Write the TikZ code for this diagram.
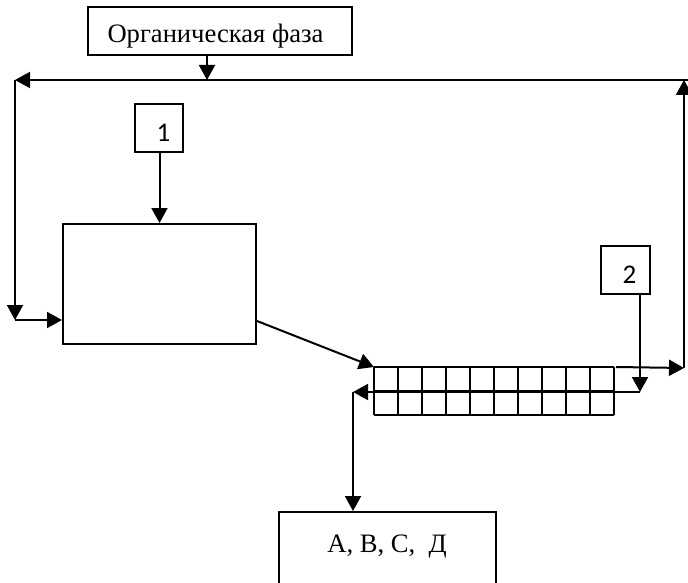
\documentclass[tikz,border=0pt]{standalone}
\usepackage{fontspec}
\setmainfont{Liberation Serif}
\newfontfamily\digitfont{Carlito}
\usetikzlibrary{arrows.meta}
\begin{document}
\begin{tikzpicture}[x=1pt,y=-1pt,line width=2pt,
  box/.style={draw,rectangle,inner sep=0pt,line width=2pt},
  arr/.style={-{Triangle[length=15pt,width=16pt]}},
  lbl/.style={anchor=base,inner sep=0pt,font=\fontsize{26.6}{30}\selectfont},
  num/.style={anchor=base,inner sep=0pt,font=\digitfont\fontsize{27}{30}\selectfont}]
\useasboundingbox (0,0) rectangle (688,583);
% boxes
\node[box,minimum width=264pt,minimum height=48pt] (org) at (220,31) {};
\node[lbl] (orgt) at (215.5,43) {Органическая фаза};
\node[box,minimum width=48pt,minimum height=48pt] (b1) at (159,128) {};
\node[num] (b1t) at (163.5,142) {1};
\node[box,minimum width=193pt,minimum height=120pt] (main) at (159.5,284) {};
\node[box,minimum width=49pt,minimum height=48pt] (b2) at (625.5,270) {};
\node[num] (b2t) at (629.5,283) {2};
\begin{scope}
\clip (0,0) rectangle (688,583);
\node[box,minimum width=217pt,minimum height=100pt] (out) at (387.5,562) {};
\end{scope}
\node[lbl] (outt) at (387,552) {A, B, C,\ \ Д};
% channel grid
\node[inner sep=0pt,minimum width=240pt,minimum height=48pt] (ch) at (495,392) {};
\draw[shift={(ch.north west)}] (0,0) grid[step=24pt] (240,48);
% coordinates
\coordinate (tl) at (15,80);
\coordinate (tr) at (684,80);
\coordinate (te) at (688,80);
\coordinate (j) at (207,80);
\coordinate (bl) at (15,320);
\coordinate (me) at (0,321);
\coordinate (cr) at (684,368);
\coordinate (d2) at (640,392);
\coordinate (dl) at (353,392);
% connectors
\draw[arr] (org.south -| j) -- (j);
\draw[arr] (te) -- (tl);
\draw[arr] (tl) -- (bl);
\draw[arr] (bl) -- (bl -| main.west);
\draw[arr] (b1.south -| main.north) -- (main.north);
\draw[arr] (main.east |- me) -- (ch.north west);
\draw[arr] (ch.north east) -- (cr);
\draw[arr] (cr) -- (tr);
\draw[arr] (b2.south -| d2) -- (d2);
\draw[arr] (d2) -- (dl);
\draw[arr] (dl) -- (dl |- out.north);
\end{tikzpicture}
\end{document}
